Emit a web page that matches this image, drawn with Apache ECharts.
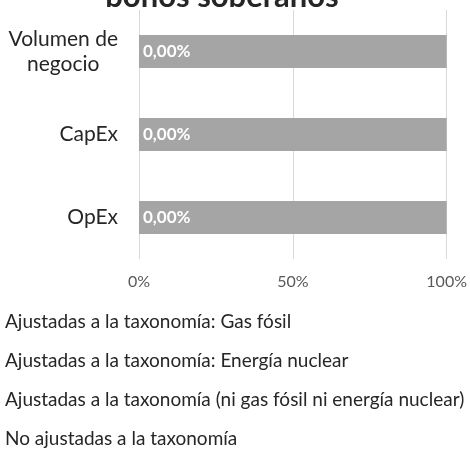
<!DOCTYPE html>
<html>
<head>
<meta charset="utf-8">
<script src="https://cdn.jsdelivr.net/npm/echarts@6/dist/echarts.min.js"></script>
<style>html,body{margin:0;padding:0;background:#fff}#c{width:470px;height:452px}</style>
</head>
<body>
<div id="c"></div>
<script>
const titleText = 'bonos soberanos';
const categories = ['Volumen de\nnegocio', 'CapEx', 'OpEx'];
const seriesNames = [
  'Ajustadas a la taxonomía: Gas fósil',
  'Ajustadas a la taxonomía: Energía nuclear',
  'Ajustadas a la taxonomía (ni gas fósil ni energía nuclear)',
  'No ajustadas a la taxonomía'
];
const gasFosil = [0, 0, 0];
const energiaNuclear = [0, 0, 0];
const niGasNiNuclear = [0, 0, 0];
const noAjustadas = [100, 100, 100];
const xTicks = [0, 50, 100];
const seriesColors = ['#4472c4', '#ed7d31', '#70ad47', '#a5a5a5'];

const font = 'Lato, "Noto Sans", sans-serif';
const chart = echarts.init(document.getElementById('c'), null, {renderer: 'canvas'});
const values = [gasFosil, energiaNuclear, niGasNiNuclear, noAjustadas];
const fmtPct = v => v.toFixed(2).replace('.', ',') + '%';
const series = seriesNames.map((name, i) => ({
  name: name,
  type: 'bar',
  stack: 'total',
  data: values[i],
  barCategoryGap: '60%',
  itemStyle: {color: seriesColors[i]},
  // label of the taxonomy-aligned share, drawn at the start of the stack
  label: i === 3 ? {
    show: true,
    position: 'insideLeft',
    distance: 4,
    color: '#ffffff',
    fontWeight: 'bold',
    fontSize: 17,
    fontFamily: font,
    formatter: p => fmtPct(niGasNiNuclear[p.dataIndex])
  } : {show: false},
  emphasis: {disabled: true}
}));
chart.setOption({
  animation: false,
  title: {
    text: titleText,
    left: 217, textAlign: 'center',
    top: -24,
    textStyle: {fontFamily: font, fontWeight: 'bold', fontSize: 31, color: '#262626'}
  },
  grid: {left: 139, right: 23, top: 10, height: 249, containLabel: false},
  xAxis: {
    type: 'value', min: 0, max: 100, interval: 50,
    axisLine: {show: false}, axisTick: {show: false},
    splitLine: {show: true, lineStyle: {color: '#d9d9d9', width: 1}},
    axisLabel: {
      margin: 15, color: '#595959', fontSize: 16, fontFamily: font,
      formatter: v => xTicks.includes(v) ? v + '%' : ''
    }
  },
  yAxis: {
    type: 'category', inverse: true, data: categories,
    axisLine: {show: false}, axisTick: {show: false},
    axisLabel: {
      margin: 21, color: '#262626', fontSize: 21, fontFamily: font, lineHeight: 25,
      formatter: v => v.split('\n').map(s => '{c|' + s + '}').join('\n'),
      rich: {c: {align: 'center', fontSize: 21, fontFamily: font, color: '#262626', lineHeight: 25}}
    }
  },
  legend: {
    orient: 'vertical', left: 5, top: 310, padding: 0,
    icon: 'rect', itemWidth: 0, itemHeight: 0, itemGap: 15,
    selectedMode: false,
    textStyle: {fontFamily: font, fontSize: 19, color: '#262626', lineHeight: 24, padding: [0, 0, 0, -5]},
    data: seriesNames
  },
  series: series
});
</script>
</body>
</html>
